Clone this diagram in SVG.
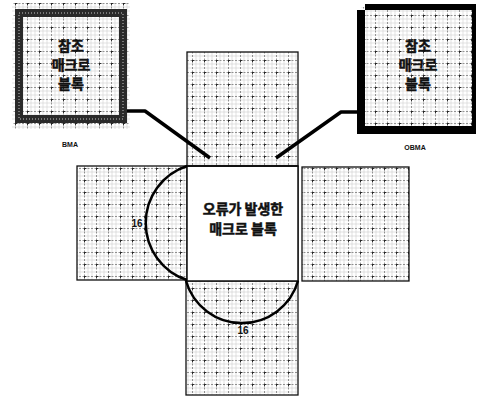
<svg xmlns="http://www.w3.org/2000/svg" width="484" height="397" viewBox="0 0 484 397">
<defs>
<pattern id="grid" width="12" height="12" patternUnits="userSpaceOnUse">
<rect width="12" height="12" fill="#fff"/>
<path d="M0,4H12M0,8H12M4,0V12M8,0V12" stroke="#c4c4c4" stroke-width="0.5" fill="none"/>
<path d="M0,0.5H12M0.5,0V12" stroke="#666" stroke-width="0.7" stroke-dasharray="2,1.5" fill="none"/>
<path d="M0.5,-1.5V2.5M-1.5,0.5H2.5" stroke="#222" stroke-width="0.9"/>
</pattern>
<pattern id="grid2" width="12" height="12" patternUnits="userSpaceOnUse" x="3" y="3">
<rect width="12" height="12" fill="#fff"/>
<path d="M0,4H12M0,8H12M4,0V12M8,0V12" stroke="#c8c8c8" stroke-width="0.5" fill="none"/>
<path d="M0,0.5H12M0.5,0V12" stroke="#6a6a6a" stroke-width="0.7" stroke-dasharray="2,1.5" fill="none"/>
<path d="M0.5,-1.5V2.5M-1.5,0.5H2.5" stroke="#222" stroke-width="0.9"/>
</pattern>
</defs>
<style>
.blk{fill:url(#grid);stroke:#111;stroke-width:1.3}
.kt{font-family:"Noto Sans CJK KR","Noto Sans",sans-serif;font-weight:bold;font-size:14px;fill:#111;stroke:#111;stroke-width:0.5;text-anchor:middle}
.lbl{font-family:"Liberation Sans",Arial,sans-serif;font-weight:bold;font-size:7px;fill:#111;text-anchor:middle}
.num{font-family:"Liberation Sans",Arial,sans-serif;font-weight:bold;font-size:10px;fill:#111;text-anchor:middle}
.con{fill:none;stroke:#000;stroke-width:3.5;stroke-linejoin:round}
.arc{fill:none;stroke:#000;stroke-width:2.5}
</style>
<rect width="484" height="397" fill="#fff"/>
<g id="top-block"><rect class="blk" x="187" y="52" width="111" height="114"/></g>
<g id="left-block"><rect class="blk" x="77" y="166" width="110" height="114"/></g>
<g id="right-block"><rect class="blk" x="302" y="167" width="107" height="114"/><line x1="298" y1="166" x2="298" y2="281" stroke="#111" stroke-width="1.2"/></g>
<g id="bottom-block"><rect class="blk" x="186" y="281" width="112" height="114"/></g>
<g id="center-block">
<rect x="187" y="166" width="111" height="115" fill="#fff" stroke="#111" stroke-width="1.5"/>
<line x1="187" y1="166" x2="298" y2="166" stroke="#111" stroke-width="2"/>
<text class="kt" x="243" y="214">오류가 발생한</text>
<text class="kt" x="243" y="234">매크로 블록</text>
</g>
<g id="bma">
<rect x="12" y="3" width="118" height="126" fill="url(#grid2)"/>
<rect x="19" y="13" width="104" height="106" fill="none" stroke="#2a2a2a" stroke-width="8"/>
<rect x="19" y="13" width="104" height="106" fill="none" stroke="#777" stroke-width="2" stroke-dasharray="1,2"/>
<text class="kt" x="71" y="51">참조</text>
<text class="kt" x="71" y="70">매크로</text>
<text class="kt" x="71" y="89">블록</text>
<text class="lbl" x="70" y="147">BMA</text>
</g>
<g id="obma">
<rect x="361" y="7" width="113" height="123" fill="url(#grid2)"/>
<rect x="357" y="10" width="8" height="124" fill="#000"/>
<rect x="365" y="4" width="111" height="6" fill="#000"/>
<rect x="357" y="126" width="119" height="8" fill="#000"/>
<rect x="472" y="4" width="4" height="130" fill="#000"/>
<text class="kt" x="418" y="51">참조</text>
<text class="kt" x="418" y="70">매크로</text>
<text class="kt" x="418" y="89">블록</text>
<text class="lbl" x="415" y="150">OBMA</text>
</g>
<g id="connectors">
<path class="con" d="M127,111 H145 L210,158"/>
<path class="con" d="M357,112 H341 L276,158"/>
<path class="arc" d="M187,166 A60 60 0 0 0 187,280"/>
<path class="arc" d="M186,281 A58.3 58.3 0 0 0 298,281"/>
<text class="num" x="137" y="227">16</text>
<text class="num" x="243" y="334">16</text>
</g>
</svg>
